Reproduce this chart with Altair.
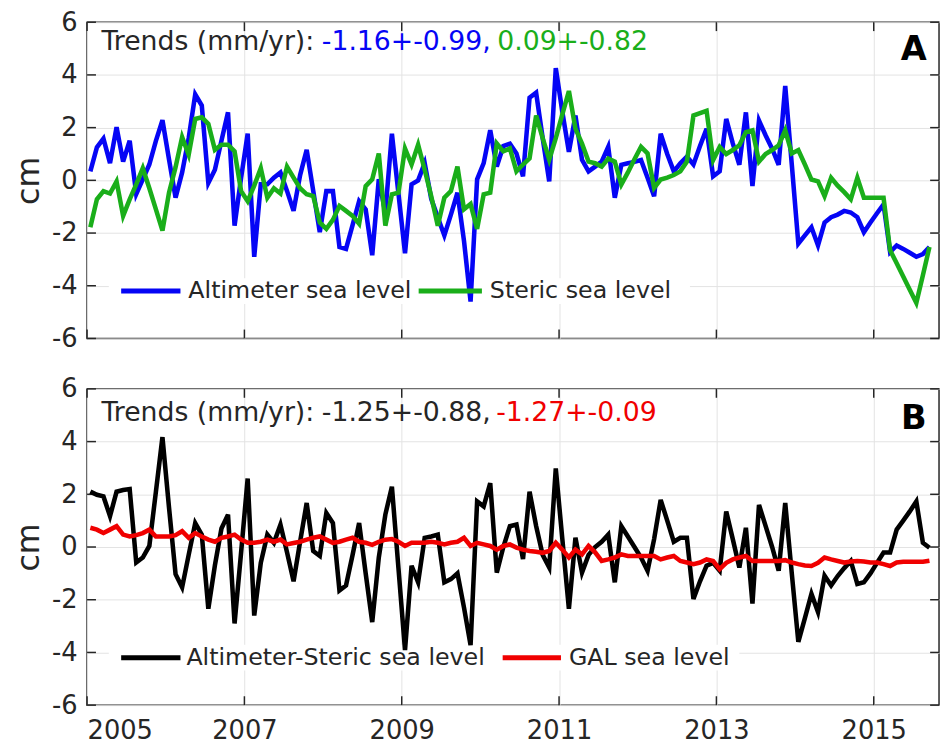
import altair as alt
import pandas as pd

# ---------------- data (monthly, Jan 2005 .. Sep 2015) ----------------
months = list(range(129))

altimeter = [0.34, 1.25, 1.58, 0.65, 2.02, 0.71, 1.50, -0.52, 0.04, 0.6,
             1.5, 2.28, 0.8, -0.66, 0.3, 1.6, 3.26, 2.84, -0.1, 0.4,
             1.5, 2.58, -1.72, 0.1, 1.77, -2.9, -0.15, -0.15, 0.1, 0.3,
             -0.4, -1.16, 0.2, 1.16, -0.4, -1.97, -0.41, -0.41, -2.53, -2.6,
             -1.7, -0.79, -1.1, -2.84, 0.04, -1.22, 1.77, -0.5, -2.77, -0.15,
             0.0, 0.65, -0.7, -1.4, -2.09, -1.3, -0.47, -2.3, -4.6, 0.04,
             0.65, 1.9, 0.52, 1.3, 1.39, 1.02, 0.15, 3.14, 3.33, 1.6,
             -0.04, 4.26, 2.6, 1.08, 2.46, 0.78, 0.34, 0.52, 0.71, 1.27,
             -0.66, 0.59, 0.65, 0.7, 0.77, 0.1, -0.6, 1.77, 1.0, 0.34,
             0.65, 0.9, 0.6, 1.3, 1.96, 0.15, 0.34, 2.33, 1.4, 0.59,
             2.58, -0.22, 2.27, 1.71, 1.2, 0.59, 3.58, 0.6, -2.4, -2.09,
             -1.78, -2.47, -1.6, -1.4, -1.3, -1.16, -1.22, -1.4, -1.97, -1.6,
             -1.25, -0.91, -2.72, -2.47, -2.6, -2.75, -2.9, -2.8, -2.53]

steric = [-1.78, -0.72, -0.41, -0.5, -0.04, -1.35, -0.72, -0.15, 0.46, -0.3,
          -1.1, -1.91, -0.47, 0.5, 1.64, 0.97, 2.33, 2.39, 2.14, 1.16,
          1.35, 1.35, 1.1, -0.41, -0.79, -0.2, 0.46, -0.66, -0.3, -0.5,
          0.52, 0.1, -0.3, -0.53, -0.6, -1.6, -1.84, -1.5, -0.97, -1.16,
          -1.35, -1.65, -0.22, 0.04, 1.02, -1.72, -0.53, -0.47, 1.21, 0.6,
          1.35, 0.4, -0.6, -1.72, -0.66, -0.41, 0.52, -1.1, -0.9, -1.84,
          -0.53, -0.47, 1.4, 1.1, 1.21, 0.34, 0.6, 0.83, 2.46, 1.6,
          0.78, 1.6, 2.5, 3.39, 1.96, 1.39, 0.71, 0.65, 0.52, 0.83,
          0.71, -0.16, 0.3, 0.8, 1.27, 1.02, -0.29, 0.03, 0.1, 0.2,
          0.34, 0.71, 2.46, 2.55, 2.64, 0.77, 1.27, 1.0, 1.15, 1.33,
          1.83, 1.9, 0.71, 1.0, 1.15, 1.33, 1.9, 1.02, 1.15, 0.6,
          0.03, -0.04, -0.6, 0.1, -0.2, -0.45, -0.72, 0.1, -0.66, -0.66,
          -0.66, -0.66, -2.65, -3.15, -3.65, -4.15, -4.65, -3.6, -2.53]

alt_minus_steric = [2.1, 1.98, 1.92, 1.17, 2.1, 2.16, 2.2, -0.59, -0.4, 0.04,
                    2.1, 4.17, 1.5, -1.03, -1.53, -0.3, 0.91, 0.47, -2.34, -0.7,
                    0.7, 1.23, -2.9, -0.2, 2.6, -2.6, -0.6, 0.47, 0.16, 0.85,
                    -0.2, -1.3, 0.2, 1.67, -0.15, -0.34, 1.29, 0.91, -1.65, -1.46,
                    -0.3, 0.91, -1.0, -2.85, -0.4, 1.23, 2.29, -0.8, -3.91, -0.71,
                    -1.34, 0.35, 0.4, 0.47, -1.34, -1.22, -1.0, -2.3, -3.72, 1.73,
                    1.54, 2.42, -0.97, 0.0, 0.79, 0.85, -0.46, 2.1, 0.8, -0.3,
                    -0.78, 2.98, 0.3, -2.34, 0.35, -0.97, -0.3, 0.0, 0.2, 0.47,
                    -1.34, 0.79, 0.4, 0.0, -0.4, -0.9, 0.3, 1.79, 1.0, 0.2,
                    0.35, 0.35, -1.97, -1.3, -0.71, -0.6, -0.9, 1.35, 0.3, -0.78,
                    0.73, -2.15, 1.6, 0.8, 0.0, -0.9, 1.67, -1.0, -3.6, -2.7,
                    -1.78, -2.47, -1.09, -1.46, -1.1, -0.8, -0.53, -1.4, -1.34, -1.0,
                    -0.6, -0.21, -0.21, 0.66, 1.0, 1.35, 1.73, 0.16, -0.03]

gal = [0.73, 0.66, 0.53, 0.66, 0.79, 0.47, 0.4, 0.45, 0.53, 0.66,
       0.4, 0.4, 0.4, 0.45, 0.6, 0.35, 0.53, 0.4, 0.28, 0.2,
       0.35, 0.4, 0.47, 0.28, 0.16, 0.16, 0.2, 0.28, 0.2, 0.28,
       0.1, 0.15, 0.2, 0.28, 0.35, 0.4, 0.28, 0.16, 0.2, 0.28,
       0.35, 0.2, 0.16, 0.08, 0.2, 0.28, 0.3, 0.2, 0.04, 0.16,
       0.16, 0.16, 0.2, 0.16, 0.1, 0.16, 0.2, 0.35, 0.04, 0.16,
       0.1, 0.04, -0.1, 0.04, 0.1, -0.02, -0.1, -0.15, -0.18, -0.22,
       -0.15, 0.16, -0.1, -0.4, -0.1, -0.28, 0.04, -0.2, -0.53, -0.47,
       -0.4, -0.28, -0.34, -0.34, -0.34, -0.34, -0.34, -0.47, -0.4, -0.34,
       -0.53, -0.59, -0.65, -0.59, -0.47, -0.53, -0.84, -0.6, -0.47, -0.4,
       -0.34, -0.53, -0.53, -0.53, -0.53, -0.53, -0.5, -0.59, -0.65, -0.7,
       -0.72, -0.6, -0.4, -0.47, -0.53, -0.59, -0.55, -0.53, -0.55, -0.59,
       -0.59, -0.65, -0.72, -0.59, -0.56, -0.56, -0.56, -0.56, -0.52]

x_ticks = [2005, 2007, 2009, 2011, 2013, 2015]
y_ticks = [-6, -4, -2, 0, 2, 4, 6]

panel_a_series = ["Altimeter sea level", "Steric sea level"]
panel_a_colors = ["#0505f5", "#1aae1a"]
panel_b_series = ["Altimeter-Steric sea level", "GAL sea level"]
panel_b_colors = ["#000000", "#f00000"]

trend_a = ["Trends (mm/yr):", "-1.16+-0.99,", "0.09+-0.82"]
trend_b = ["Trends (mm/yr):", "-1.25+-0.88,", "-1.27+-0.09"]

years = [2005 + (m + 0.5) / 12 for m in months]

# ---------------- styling ----------------
W = 862
FONT = "DejaVu Sans"
INK = "#262626"
TICK = 9


def x_enc(show_labels):
    return alt.X("year:Q",
                 scale=alt.Scale(domain=[2005, 2015.83], nice=False, zero=False),
                 axis=alt.Axis(values=x_ticks, format="d", labels=show_labels,
                               title=None, ticks=False, labelPadding=13, grid=True))


y_enc = alt.Y("cm:Q", scale=alt.Scale(domain=[-6, 6], nice=False),
              axis=alt.Axis(values=y_ticks, title="cm", ticks=False,
                            labelExpr="'' + datum.value",
                            labelPadding=10, titlePadding=6, grid=True))


def one(**kw):
    return pd.DataFrame(kw)


def panel(names, values, colors, trends, trend_colors, letter, height, show_x,
          leg_y, rule_x, text_x, bg_x, trend_y, trend_x, letter_y):
    layers = []
    # white legend background (hides grid lines behind the legend)
    layers.append(alt.Chart(one(k=[0])).mark_rect(color="white").encode(
        x=alt.value(bg_x[0]), x2=alt.value(bg_x[1]),
        y=alt.value(leg_y - 13), y2=alt.value(leg_y + 13)))
    # inward tick marks on all four sides (box style)
    xt = pd.DataFrame({"year": x_ticks})
    yt = pd.DataFrame({"cm": y_ticks})
    tick = dict(color=INK, strokeWidth=1.5)
    layers.append(alt.Chart(xt).mark_rule(**tick).encode(
        x=x_enc(show_x), y=alt.value(height), y2=alt.value(height - TICK)))
    layers.append(alt.Chart(xt).mark_rule(**tick).encode(
        x=x_enc(show_x), y=alt.value(0), y2=alt.value(TICK)))
    layers.append(alt.Chart(yt).mark_rule(**tick).encode(
        y=y_enc, x=alt.value(0), x2=alt.value(TICK)))
    layers.append(alt.Chart(yt).mark_rule(**tick).encode(
        y=y_enc, x=alt.value(W - TICK), x2=alt.value(W)))
    for name, vals, col in zip(names, values, colors):
        df = pd.DataFrame({"year": years, "cm": vals, "series": name})
        layers.append(alt.Chart(df).mark_line(color=col, strokeWidth=4.6).encode(
            x=x_enc(show_x), y=y_enc))
    # legend
    for name, col, (r0, r1), tx in zip(names, colors, rule_x, text_x):
        layers.append(alt.Chart(one(k=[0])).mark_rule(color=col, strokeWidth=5).encode(
            x=alt.value(r0), x2=alt.value(r1), y=alt.value(leg_y)))
        layers.append(alt.Chart(one(label=[name])).mark_text(
            align="left", baseline="middle", font=FONT, fontSize=24, color=INK).encode(
            x=alt.value(tx), y=alt.value(leg_y), text="label:N"))
    # trend annotation
    for txt, col, tx in zip(trends, trend_colors, trend_x):
        layers.append(alt.Chart(one(label=[txt])).mark_text(
            align="left", baseline="alphabetic", font=FONT, fontSize=27, color=col).encode(
            x=alt.value(tx), y=alt.value(trend_y), text="label:N"))
    # panel letter
    layers.append(alt.Chart(one(label=[letter])).mark_text(
        align="right", baseline="alphabetic", font=FONT, fontSize=34,
        fontWeight="bold", color="black").encode(
        x=alt.value(849.5), y=alt.value(letter_y), text="label:N"))
    return alt.layer(*layers).properties(width=W, height=height)


panel_a = panel(panel_a_series, [altimeter, steric], panel_a_colors, trend_a,
                [INK, panel_a_colors[0], panel_a_colors[1]], "A",
                320, False, 272, [(34.5, 94.5), (335.5, 399.5)], [102.5, 407.5],
                (22, 610), 28, [14.5, 237.5, 415], 38)
panel_b = panel(panel_b_series, [alt_minus_steric, gal], panel_b_colors, trend_b,
                [INK, INK, panel_b_colors[1]], "B",
                320, True, 272, [(34.5, 94.5), (420.5, 479.5)], [100.5, 487.5],
                (22, 660), 32, [14.5, 237.5, 414], 41)

chart = alt.vconcat(panel_a, panel_b, spacing=23).properties(
    padding={"left": 4, "top": -4, "right": 0, "bottom": 0}
).configure_view(
    stroke=INK, strokeWidth=1.5
).configure_axis(
    domain=False, labelFont=FONT, labelFontSize=26, labelColor=INK,
    titleFont=FONT, titleFontSize=32, titleFontWeight="normal", titleColor=INK,
    gridColor="#e3e3e3", gridWidth=1
)

chart.save("out.html", embed_options={"renderer": "svg", "actions": False})
